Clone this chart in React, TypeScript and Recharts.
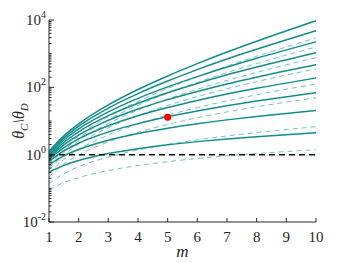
import React from 'react'
import {
  ComposedChart,
  Line,
  XAxis,
  YAxis,
  ReferenceLine,
  ReferenceDot,
} from 'recharts'

// m values sampled along every curve
const mValues = [1, 1.5, 2, 3, 4, 5, 6, 7, 8, 10]

// solid curves, top to bottom
const solid1 = [1.26, 3.61, 8.22, 30.0, 86.1, 218, 505, 1119, 2350, 9550]
const solid2 = [1.12, 3.16, 7.0, 24.1, 65.2, 154, 336, 693, 1355, 4790]
const solid3 = [1.0, 2.73, 5.81, 18.6, 47.0, 103, 208, 401, 731, 2240]
const solid4 = [0.89, 2.32, 4.79, 14.4, 33.7, 69.3, 130, 235, 400, 1070]
const solid5 = [0.79, 1.95, 3.81, 10.4, 22.6, 43.1, 75.5, 126, 200, 468]
const solid6 = [0.71, 1.61, 2.96, 7.26, 14.4, 25.1, 40.9, 63.2, 93.5, 191]
const solid7 = [0.63, 1.29, 2.19, 4.71, 8.36, 13.4, 19.9, 28.4, 39.2, 69.2]
const solid8 = [0.5, 0.92, 1.43, 2.69, 4.24, 6.12, 8.3, 10.8, 13.6, 20.4]
const solid9 = [0.3, 0.48, 0.67, 1.08, 1.51, 1.97, 2.44, 2.93, 3.43, 4.47]

// dashed curves, top to bottom
const dashed1 = [0.5, 1.55, 3.63, 13.5, 38.1, 92.5, 204, 426, 838, 2950]
const dashed2 = [0.45, 1.35, 3.1, 11.0, 29.4, 67.6, 140, 275, 509, 1585]
const dashed3 = [0.4, 1.15, 2.55, 8.41, 21.0, 45.0, 87.5, 160, 278, 759]
const dashed4 = [0.35, 0.98, 2.08, 6.28, 14.6, 29.1, 53.1, 91.0, 148, 355]
const dashed5 = [0.28, 0.72, 1.42, 3.84, 8.09, 14.9, 25.0, 39.7, 60.1, 126]
const dashed6 = [0.22, 0.53, 0.98, 2.4, 4.65, 7.93, 12.5, 18.6, 26.4, 49.0]
const dashed7 = [0.14, 0.27, 0.44, 0.85, 1.38, 2.01, 2.75, 3.6, 4.54, 6.76]
const dashed8 = [0.091, 0.148, 0.208, 0.337, 0.474, 0.619, 0.769, 0.925, 1.08, 1.41]

const solidSeries = [solid1, solid2, solid3, solid4, solid5, solid6, solid7, solid8, solid9]
const dashedSeries = [dashed1, dashed2, dashed3, dashed4, dashed5, dashed6, dashed7, dashed8]

const marker = { m: 5, value: 13 }
const thresholdY = 1

const xTicks = [1, 2, 3, 4, 5, 6, 7, 8, 9, 10]
const yMajorTicks = [0.01, 1, 100, 10000]

const W = 350
const H = 263
const PLOT_LEFT = 49
const PLOT_RIGHT = 316
const PLOT_TOP = 20
const PLOT_BOTTOM = 222
const AXIS = '#262626'
const SOLID = '#138d8a'
const DASHED = '#72c3c0'
const FONT = 'Liberation Serif, Times New Roman, serif'
const txt = { fontFamily: FONT }

const yTicks: number[] = []
for (let k = -2; k < 4; k++) {
  for (let d = 1; d < 10; d++) yTicks.push(Number((d * Math.pow(10, k)).toPrecision(3)))
}
yTicks.push(10000)

const data = mValues.map((m, i) => {
  const row: Record<string, number> = { m }
  solidSeries.forEach((s, j) => (row[`s${j}`] = s[i]))
  dashedSeries.forEach((s, j) => (row[`d${j}`] = s[i]))
  return row
})

const isMajor = (v: number) => yMajorTicks.some((t) => Math.abs(t - v) / t < 1e-6)

const BottomTick = (props: any) => {
  const { x, payload } = props
  return (
    <g>
      <line x1={x} x2={x} y1={PLOT_BOTTOM} y2={PLOT_BOTTOM - 4} stroke={AXIS} />
      <text x={x} y={PLOT_BOTTOM + 20} textAnchor="middle" fontSize={15} style={txt} fill={AXIS}>
        {payload.value}
      </text>
    </g>
  )
}

const TopTick = (props: any) => {
  const { x } = props
  return <line x1={x} x2={x} y1={PLOT_TOP} y2={PLOT_TOP + 4} stroke={AXIS} />
}

const LeftTick = (props: any) => {
  const { y, payload } = props
  const v = payload.value
  const major = isMajor(v)
  return (
    <g>
      <line x1={PLOT_LEFT} x2={PLOT_LEFT + (major ? 5 : 2.5)} y1={y} y2={y} stroke={AXIS} />
      {major && (
        <text x={PLOT_LEFT - 3} y={y + 5} textAnchor="end" fontSize={15} style={txt} fill={AXIS}>
          10
          <tspan dy={-7} fontSize={10}>
            {Math.round(Math.log10(v))}
          </tspan>
        </text>
      )}
    </g>
  )
}

const RightTick = (props: any) => {
  const { y, payload } = props
  const major = isMajor(payload.value)
  return <line x1={PLOT_RIGHT} x2={PLOT_RIGHT - (major ? 5 : 2.5)} y1={y} y2={y} stroke={AXIS} />
}

const XLabel = () => (
  <text x={(PLOT_LEFT + PLOT_RIGHT) / 2} y={257} textAnchor="middle" fontSize={17} fontStyle="italic" style={txt} fill={AXIS}>
    m
  </text>
)

const YLabel = () => {
  const cy = (PLOT_TOP + PLOT_BOTTOM) / 2
  return (
    <text
      x={0}
      y={0}
      transform={`translate(24, ${cy}) rotate(-90)`}
      textAnchor="middle"
      fontSize={16}
      fontStyle="italic"
      style={txt}
      fill={AXIS}
    >
      θ<tspan dy={4} fontSize={11}>C</tspan>
      <tspan dy={-4}>\θ</tspan>
      <tspan dy={4} fontSize={11}>D</tspan>
    </text>
  )
}

export default function App() {
  return (
    <div style={{ position: 'absolute', left: 0, top: 0, width: W, height: H, background: '#fff' }}>
      <ComposedChart
        width={W}
        height={H}
        data={data}
        margin={{ top: PLOT_TOP, right: W - PLOT_RIGHT, bottom: 0, left: 0 }}
      >
        <XAxis
          dataKey="m"
          type="number"
          domain={[1, 10]}
          ticks={xTicks}
          interval={0}
          height={H - PLOT_BOTTOM}
          tickLine={false}
          axisLine={{ stroke: AXIS }}
          tick={<BottomTick />}
          label={<XLabel />}
        />
        <XAxis
          xAxisId="top"
          dataKey="m"
          type="number"
          orientation="top"
          domain={[1, 10]}
          ticks={xTicks}
          interval={0}
          height={0}
          tickLine={false}
          axisLine={{ stroke: AXIS }}
          tick={<TopTick />}
        />
        <YAxis
          scale="log"
          domain={[0.01, 10000]}
          allowDataOverflow
          ticks={yTicks}
          interval={0}
          width={PLOT_LEFT}
          tickLine={false}
          axisLine={{ stroke: AXIS }}
          tick={<LeftTick />}
          label={<YLabel />}
        />
        <YAxis
          yAxisId="right"
          orientation="right"
          scale="log"
          domain={[0.01, 10000]}
          allowDataOverflow
          ticks={yTicks}
          interval={0}
          width={0}
          tickLine={false}
          axisLine={{ stroke: AXIS }}
          tick={<RightTick />}
        />
        {dashedSeries.map((_, j) => (
          <Line
            key={`d${j}`}
            dataKey={`d${j}`}
            type="monotone"
            stroke={DASHED}
            strokeWidth={1}
            strokeDasharray="5 4"
            dot={false}
            isAnimationActive={false}
          />
        ))}
        {solidSeries.map((_, j) => (
          <Line
            key={`s${j}`}
            dataKey={`s${j}`}
            type="monotone"
            stroke={SOLID}
            strokeWidth={1.5}
            dot={false}
            isAnimationActive={false}
          />
        ))}
        <ReferenceLine y={thresholdY} stroke="#111" strokeWidth={1.5} strokeDasharray="6 4" />
        <ReferenceDot x={marker.m} y={marker.value} r={3.5} fill="#ff0000" stroke="none" />
      </ComposedChart>
    </div>
  )
}
